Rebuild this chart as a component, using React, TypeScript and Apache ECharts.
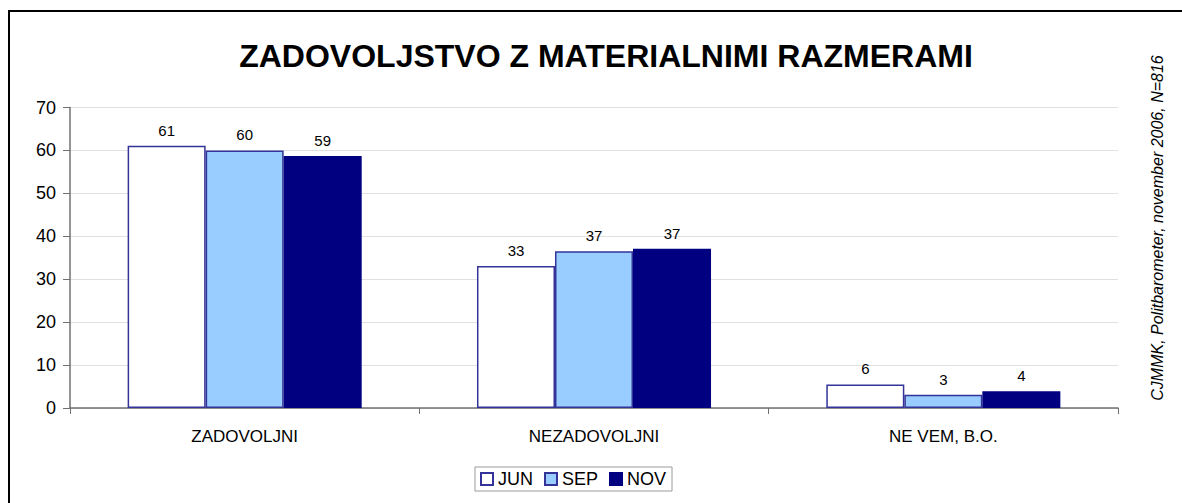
import React, { useEffect, useRef } from "react";
import * as echarts from "echarts";

const categories = ["ZADOVOLJNI", "NEZADOVOLJNI", "NE VEM, B.O."];
const seriesNames = ["JUN", "SEP", "NOV"];
const junValues = [61.1, 33.1, 5.5];
const sepValues = [60.0, 36.5, 3.1];
const novValues = [58.7, 37.1, 3.9];
const junLabels = ["61", "33", "6"];
const sepLabels = ["60", "37", "3"];
const novLabels = ["59", "37", "4"];
const yTicks = [0, 10, 20, 30, 40, 50, 60, 70];
const titleText = "ZADOVOLJSTVO Z MATERIALNIMI RAZMERAMI";
const sourceText = "CJMMK, Politbarometer, november 2006, N=816";

const FONT = "'Liberation Sans', Arial, sans-serif";

export default function App() {
  const ref = useRef<HTMLDivElement>(null);
  useEffect(() => {
    if (!ref.current) return;
    const chart = echarts.init(ref.current, null, { renderer: "svg" });
    const fills = ["#FFFFFF", "#99CCFF", "#000080"];
    const borders = ["#333399", "#333399", "#000080"];
    const values = [junValues, sepValues, novValues];
    const labels = [junLabels, sepLabels, novLabels];
    chart.setOption({
      animation: false,
      backgroundColor: "#ffffff",
      textStyle: { fontFamily: FONT },
      title: {
        text: titleText,
        left: 601,
        top: 35,
        textAlign: "center",
        textStyle: { fontFamily: FONT, fontSize: 32, fontWeight: "bold", color: "#000" },
      },
      graphic: [
        {
          type: "rect",
          shape: { x: 9, y: 11, width: 1300, height: 700 },
          style: { fill: "none", stroke: "#000", lineWidth: 2 },
          silent: true,
        },
        {
          type: "text",
          x: 1157,
          y: 228,
          rotation: Math.PI / 2,
          style: {
            text: sourceText,
            font: `italic 16px ${FONT}`,
            fill: "#000",
            align: "center",
            verticalAlign: "middle",
          },
        },
      ],
      legend: {
        data: seriesNames,
        left: 475,
        top: 467,
        orient: "horizontal",
        itemWidth: 12,
        itemHeight: 12,
        itemGap: 11,
        padding: [3, 6, 3, 5],
        borderColor: "#9a9a9a",
        borderWidth: 1,
        icon: "rect",
        textStyle: { fontFamily: FONT, fontSize: 18, color: "#000", padding: [0, 0, 0, 0] },
      },
      grid: { left: 70, right: 64, top: 107.5, bottom: 95, containLabel: false },
      xAxis: {
        type: "category",
        data: categories,
        axisLine: { lineStyle: { color: "#707070", width: 1.5 } },
        axisTick: { show: true, length: 6, inside: false, lineStyle: { color: "#707070" } },
        axisLabel: { fontFamily: FONT, fontSize: 17, color: "#000", margin: 20 },
      },
      yAxis: {
        type: "value",
        min: yTicks[0],
        max: yTicks[yTicks.length - 1],
        interval: 10,
        axisLine: { show: true, lineStyle: { color: "#707070", width: 1.5 } },
        axisTick: { show: true, length: 7, lineStyle: { color: "#707070" } },
        axisLabel: { fontFamily: FONT, fontSize: 18, color: "#000", margin: 14 },
        splitLine: { show: true, lineStyle: { color: "#E0E0E0", width: 1 } },
      },
      series: seriesNames.map((name, i) => ({
        name,
        type: "bar",
        data: values[i],
        barGap: "0%",
        barCategoryGap: "33%",
        itemStyle: { color: fills[i], borderColor: borders[i], borderWidth: 1.5 },
        label: {
          show: true,
          position: "top",
          distance: 8,
          fontFamily: FONT,
          fontSize: 15,
          color: "#000",
          formatter: (p: any) => labels[i][p.dataIndex],
        },
      })),
    });
    return () => chart.dispose();
  }, []);
  return (
    <div
      ref={ref}
      style={{ position: "absolute", left: 0, top: 0, width: 1182, height: 503 }}
    />
  );
}
